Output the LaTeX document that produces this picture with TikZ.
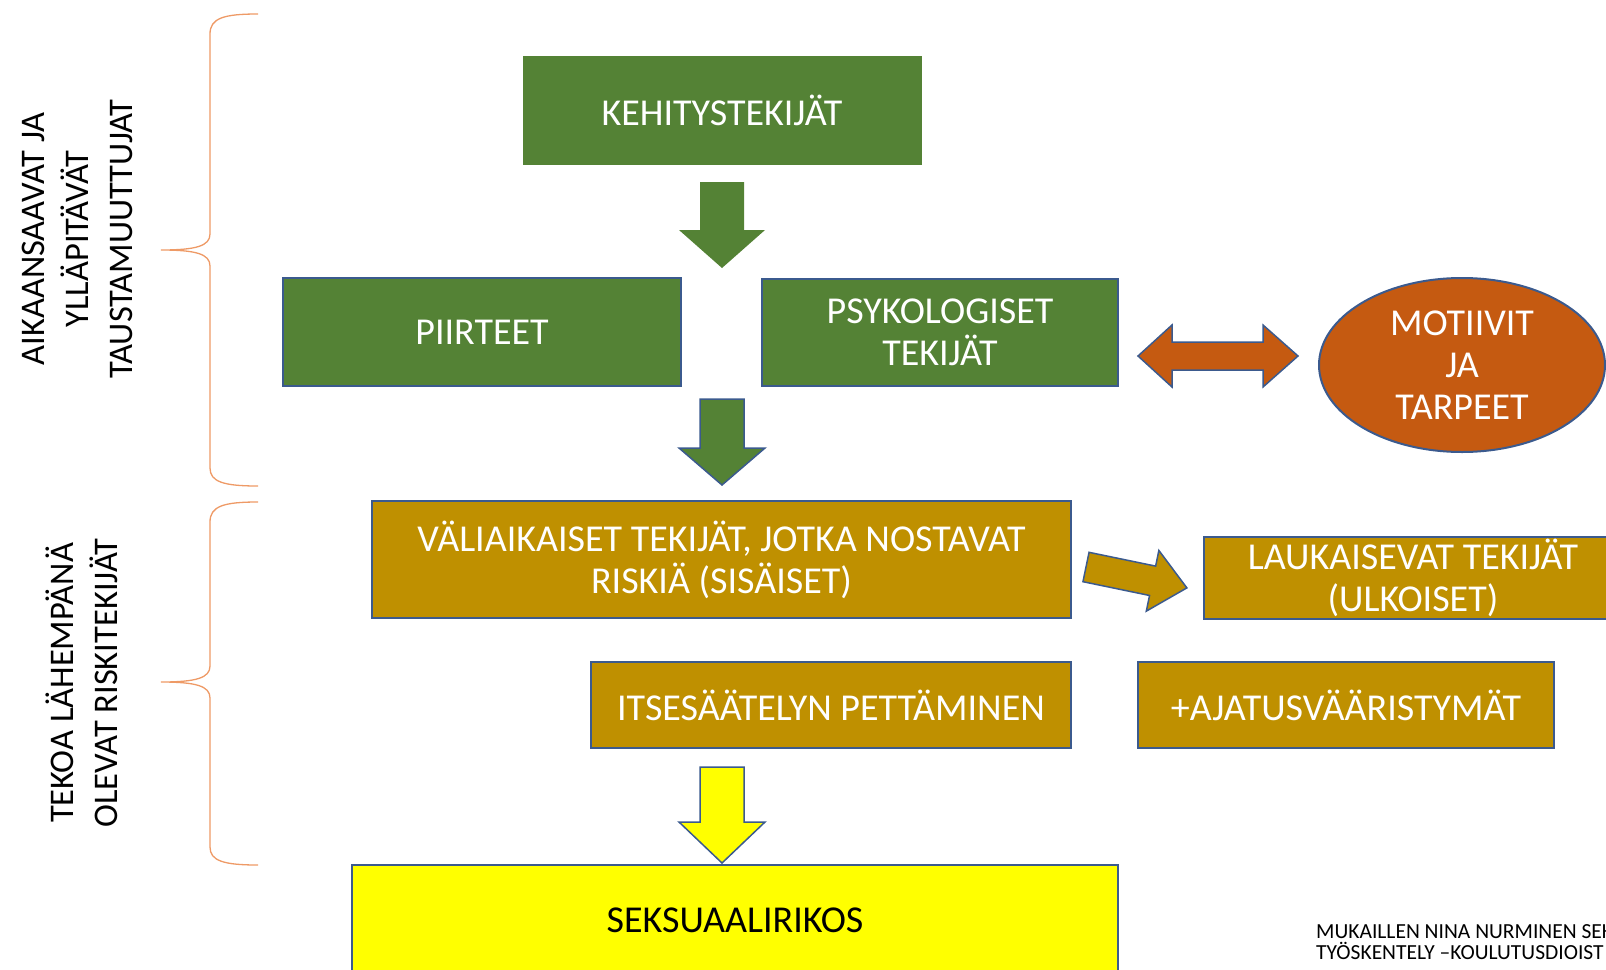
\documentclass[tikz,border=0pt]{standalone}
\usepackage{fontspec}
\setmainfont{Carlito}
\usetikzlibrary{shapes.geometric}
\definecolor{kgreen}{HTML}{548235}
\definecolor{kgold}{HTML}{BF9000}
\definecolor{korange}{HTML}{C55A11}
\definecolor{kyellow}{HTML}{FFFF00}
\definecolor{kline}{HTML}{3B5A8E}
\definecolor{kbrace}{HTML}{EE9A66}
\tikzset{
  box/.style={rectangle, inner sep=0pt, align=center, text=white, line width=2pt,
    font=\fontsize{38}{42}\selectfont},
  greenbox/.style={box, fill=kgreen},
  goldbox/.style={box, fill=kgold, draw=kline},
  bigarrow/.style={line width=1.5pt, draw=kline},
  sidetext/.style={rotate=90, align=center, font=\fontsize{34.5}{44}\selectfont},
  bracepath/.style={draw=kbrace, line width=1.3pt}
}
\begin{document}
\begin{tikzpicture}[x=1pt, y=-1pt]
            \useasboundingbox (0,0) rectangle (1606,969);
            \clip (0,0) rectangle (1606,969);

            % side labels and braces
            \node[sidetext] (T1) at (77,239) {AIKAANSAAVAT JA\\YLLÄPITÄVÄT\\TAUSTAMUUTTUJAT};
            \node[sidetext] (T2) at (82,683) {TEKOA LÄHEMPÄNÄ\\OLEVAT RISKITEKIJÄT};
            \draw[bracepath] (258,14) .. controls (224,14) and (210,18) .. (210,34) -- (210,234)
              .. controls (210,246) and (196,250) .. (161,250) .. controls (196,250) and (210,254) .. (210,266)
              -- (210,468) .. controls (210,482) and (224,486) .. (258,486);
            \draw[bracepath] (258,502) .. controls (224,502) and (210,506) .. (210,522) -- (210,666)
              .. controls (210,678) and (196,682) .. (161,682) .. controls (196,682) and (210,686) .. (210,698)
              -- (210,847) .. controls (210,861) and (224,865) .. (258,865);

            % boxes
            \node[greenbox, minimum width=399pt, minimum height=109pt] (K) at (722,110) {KEHITYSTEKIJÄT};
            \node[greenbox, draw=kline, minimum width=398pt, minimum height=108pt] (P) at (482,332) {PIIRTEET};
            \node[greenbox, draw=kline, minimum width=356pt, minimum height=107pt] (Ps) at (940,332) {PSYKOLOGISET\\TEKIJÄT};
            \node[box, ellipse, fill=korange, draw=kline, minimum width=286pt, minimum height=174pt] (M) at (1462,365) {MOTIIVIT\\JA\\TARPEET};
            \node[goldbox, minimum width=699pt, minimum height=117pt] (V) at (721.5,559.5) {VÄLIAIKAISET TEKIJÄT, JOTKA NOSTAVAT\\RISKIÄ (SISÄISET)};
            \node[goldbox, minimum width=418pt, minimum height=82pt] (L) at (1413,578) {LAUKAISEVAT TEKIJÄT\\(ULKOISET)};
            \node[goldbox, minimum width=480pt, minimum height=86pt] (I) at (831,705) {ITSESÄÄTELYN PETTÄMINEN};
            \node[goldbox, minimum width=416pt, minimum height=86pt] (A) at (1346,705) {+AJATUSVÄÄRISTYMÄT};
            \node[box, fill=kyellow, draw=kline, text=black, minimum width=766pt, minimum height=110pt] (S) at (735,920) {SEKSUAALIRIKOS};

            % block arrows
            \coordinate (D1) at (722,182);
            \coordinate (D2) at (722,399);
            \coordinate (D3) at (722,767);
            \filldraw[fill=kgreen, draw=none] (D1) ++(-22,0) -- ++(44,0) -- ++(0,48) -- ++(21,0) -- ++(-43,38) -- ++(-43,-38) -- ++(21,0) -- cycle;
            \filldraw[fill=kgreen, bigarrow] (D2) ++(-22,0) -- ++(44,0) -- ++(0,49) -- ++(21,0) -- ++(-43,37) -- ++(-43,-37) -- ++(21,0) -- cycle;
            \filldraw[fill=kyellow, bigarrow] (D3) ++(-22,0) -- ++(44,0) -- ++(0,55) -- ++(21,0) -- ++(-43,41) -- ++(-43,-41) -- ++(21,0) -- cycle;

            \coordinate (H) at (1138,356);
            \filldraw[fill=korange, bigarrow] (H) -- ++(34,-31) -- ++(0,17) -- ++(91,0) -- ++(0,-17) -- ++(35,31)
              -- ++(-35,31) -- ++(0,-17) -- ++(-91,0) -- ++(0,17) -- cycle;

            \coordinate (G) at (1086,567);
            \filldraw[fill=kgold, bigarrow, shift={(G)}, rotate=-11.7] (0,-15) -- (68,-15) -- (68,-31) -- (103,0) -- (68,31) -- (68,15) -- (0,15) -- cycle;

            % source
            \node[anchor=north west, align=left, inner sep=0pt, font=\fontsize{21.5}{21}\selectfont] (N) at (1316,924)
              {MUKAILLEN NINA NURMINEN SEK\\TYÖSKENTELY –KOULUTUSDIOIST};
\end{tikzpicture}
\end{document}
